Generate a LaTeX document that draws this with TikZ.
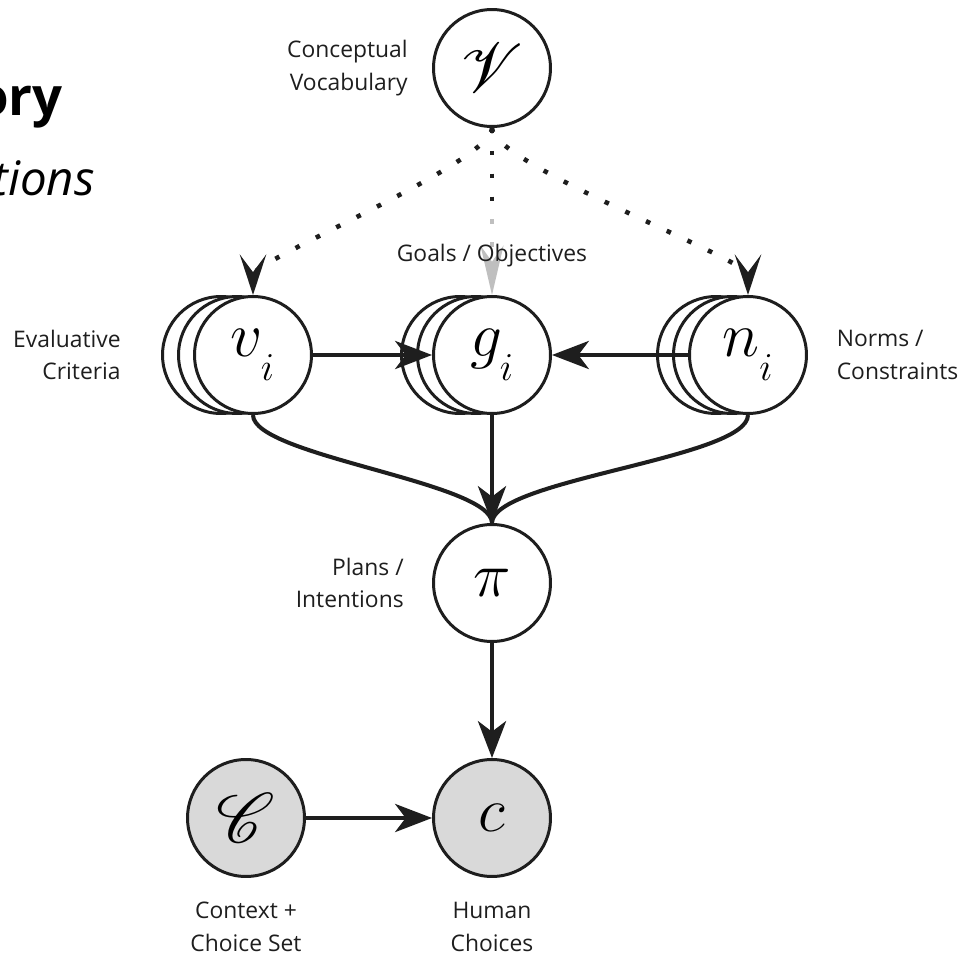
\documentclass[tikz,border=0pt]{standalone}
\usepackage{fix-cm}
\usepackage{graphicx}
\usepackage{fontspec}
\setmainfont{Open Sans}
\usepackage{mathrsfs}
\usetikzlibrary{
    arrows.meta,
    calc,
    positioning
}

\definecolor{ink}{HTML}{1E1E1E}
\definecolor{shade}{HTML}{D9D9D9}
\definecolor{faint}{HTML}{BFBFBF}

\newcommand{\sub}[1]{#1_{\lower8pt\hbox{\scalebox{1.25}{$\scriptscriptstyle i$}}}}
\newcommand{\scr}[1]{\scalebox{1.6}{$\mathscr{#1}$}}

\tikzset{
    var/.style={circle, draw=ink, line width=1.7pt, fill=white,
        minimum size=2.34cm, inner sep=0pt, font=\fontsize{36}{40}\selectfont},
    obs/.style={var, fill=shade},
    lbl/.style={font=\fontsize{13}{18.7}\selectfont, inner sep=0pt, text=ink},
    link/.style={draw=ink, line width=2.3pt,
        -{Stealth[length=21pt, width=16pt, inset=6pt]}},
    dots/.style={draw=ink, line width=2.6pt, dash pattern=on 2.6pt off 10.4pt},
    dotlink/.style={dots, -{Stealth[length=23pt, width=15pt, inset=10pt]}},
    greylink/.style={dots, draw=faint, -{Stealth[length=28pt, width=13pt, inset=9pt]}}
}

\begin{document}
\begin{tikzpicture}[x=0.02cm, y=-0.02cm]
    \useasboundingbox (0,0) rectangle (965,957);

    % title, cut at the left edge
    \node[anchor=base east, inner sep=0pt, font=\fontsize{30}{36}\selectfont\bfseries] (title) at (63,115) {ory};
    \node[anchor=base east, inner sep=0pt, font=\fontsize{27}{32}\selectfont\itshape] (subtitle) at (95,195) {tions};

    % variables
    \node[var] (V) at (492,68) {\scr{V}};
    \node[var] (v2) at (221,355) {};
    \node[var] (v1) at (237,355) {};
    \node[var] (v) at (253,355) {$\sub{v}$};
    \node[var] (g2) at (460,355) {};
    \node[var] (g1) at (476,355) {};
    \node[var] (g) at (492,355) {$\sub{g}$};
    \node[var] (n2) at (716,355) {};
    \node[var] (n1) at (732,355) {};
    \node[var] (n) at (748,355) {$\sub{n}$};
    \node[var] (pi) at (492,583) {$\pi$};
    \node[obs] (C) at (246,818) {\scr{C}};
    \node[obs] (c) at (492,818) {$c$};

    % labels
    \node[lbl, align=right, left=0.48cm of V] (Vlbl) {Conceptual\\Vocabulary};
    \node[lbl, align=right, left=0.8cm of v2] (vlbl) {Evaluative\\Criteria};
    \node[lbl, align=left, right=0.57cm of n] (nlbl) {Norms /\\Constraints};
    \node[lbl, align=right, left=0.56cm of pi] (pilbl) {Plans /\\Intentions};
    \node[lbl, align=center] (Clbl) at ([yshift=-2.18cm]C.center) {Context +\\Choice Set};
    \node[lbl, align=center] (clbl) at ([yshift=-2.18cm]c.center) {Human\\Choices};

    % vocabulary
    \draw[dotlink] (V.south) to[out=-90, in=90, looseness=0.3] (v.north);
    \draw[dotlink] (V.south) to[out=-90, in=90, looseness=0.3] (n.north);
    \draw[greylink] (V.south) -- (g.north);
    \draw[dots] (V.south) -- ($(V.south)!0.5!(g.north)$);
    \node[lbl] (glbl) at ([yshift=0.78cm]g.north) {Goals / Objectives};

    % dependencies
    \draw[link] (v) -- (g);
    \draw[link] (n) -- (g);
    \draw[draw=ink, line width=2.3pt] (v.south) to[out=-90, in=90, looseness=0.4] (pi.north);
    \draw[draw=ink, line width=2.3pt] (n.south) to[out=-90, in=90, looseness=0.4] (pi.north);
    \draw[link] (g) -- (pi);
    \draw[link] (pi) -- (c);
    \draw[link] (C) -- (c);
\end{tikzpicture}
\end{document}
